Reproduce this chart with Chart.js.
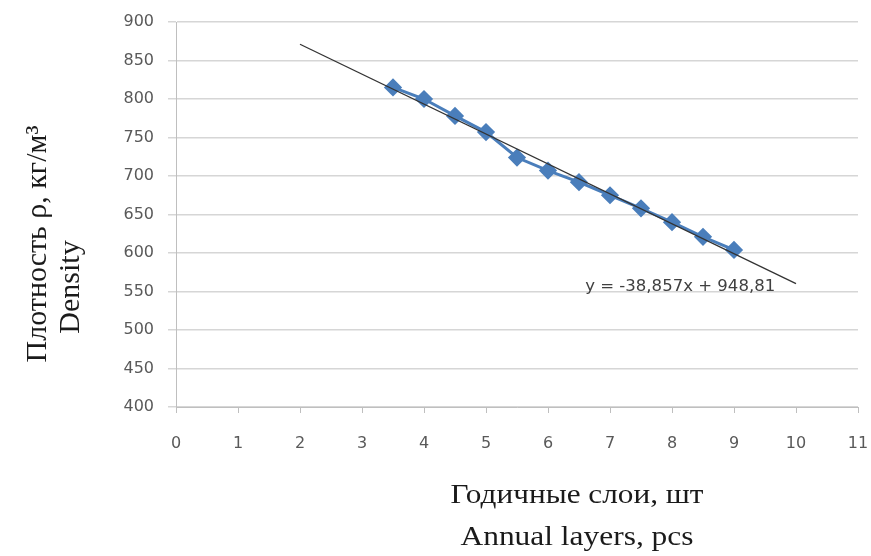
<!DOCTYPE html>
<html>
<head>
<meta charset="utf-8">
<script src="https://cdn.jsdelivr.net/npm/chart.js@4/dist/chart.umd.min.js"></script>
<style>
  html, body { margin: 0; padding: 0; background: #fff; }
  #wrap { width: 871px; height: 556px; position: relative; }
</style>
</head>
<body>
<div id="wrap"><canvas id="chart"></canvas></div>
<script>
// annual layers (x) and density (y)
const layers = [3.5, 4, 4.5, 5, 5.5, 6, 6.5, 7, 7.5, 8, 8.5, 9];
const density = [815, 800, 778, 757, 724, 707, 692, 675, 658, 640, 621, 604];

// linear trend shown on the chart
const slope = -38.857;
const intercept = 948.81;
const trendX = [2, 10];
const equation = 'y = -38,857x + 948,81';

const yTitle = ['Плотность ρ, кг/м³', 'Density'];
const xTitle = ['Годичные слои, шт', 'Annual layers, pcs'];

const points = layers.map((x, i) => ({ x: x, y: density[i] }));
const trend = trendX.map(x => ({ x: x, y: slope * x + intercept }));

// text stretched a bit sideways, like in the scanned picture
function wideText(ctx, text, x, y, width) {
  ctx.save();
  ctx.translate(x, y);
  ctx.scale(width / ctx.measureText(text).width, 1);
  ctx.fillText(text, 0, 0);
  ctx.restore();
}

function upText(ctx, text, x, y) {
  ctx.save();
  ctx.translate(x, y);
  ctx.rotate(-Math.PI / 2);
  ctx.fillText(text, 0, 0);
  ctx.restore();
}

const titlesPlugin = {
  id: 'titles',
  afterDraw(chart) {
    const ctx = chart.ctx;
    const xs = chart.scales.x, ys = chart.scales.y;
    ctx.save();
    ctx.fillStyle = '#1a1a1a';
    ctx.textAlign = 'center';
    ctx.textBaseline = 'alphabetic';

    ctx.font = '27px "Liberation Serif"';
    wideText(ctx, xTitle[0], 577, 503, 253);
    wideText(ctx, xTitle[1], 577, 545, 233);

    ctx.font = '30px "Liberation Serif"';
    upText(ctx, yTitle[0], 46, 244);
    upText(ctx, yTitle[1], 79, 287);

    ctx.fillStyle = '#404040';
    ctx.font = '16px "DejaVu Sans"';
    ctx.textAlign = 'left';
    wideText(ctx, equation, xs.getPixelForValue(6.6), ys.getPixelForValue(551), 190);
    ctx.restore();
  }
};

new Chart(document.getElementById('chart'), {
  type: 'scatter',
  data: {
    datasets: [
      {
        label: 'Density',
        data: points,
        showLine: true,
        borderColor: '#4a7ebb',
        backgroundColor: '#4a7ebb',
        borderWidth: 3,
        pointStyle: 'rectRot',
        pointRadius: 7,
        pointHoverRadius: 7,
        order: 2
      },
      {
        label: 'Trend',
        data: trend,
        showLine: true,
        borderColor: '#333333',
        borderWidth: 1.3,
        pointRadius: 0,
        order: 1
      }
    ]
  },
  options: {
    responsive: true,
    maintainAspectRatio: false,
    animation: false,
    layout: { padding: { left: 0, right: 13, top: 22, bottom: 0 } },
    plugins: {
      legend: { display: false },
      tooltip: { enabled: false }
    },
    scales: {
      x: {
        type: 'linear',
        min: 0,
        max: 11,
        border: { color: '#bfbfbf' },
        grid: { display: true, drawOnChartArea: false, color: '#bfbfbf', tickLength: 6 },
        ticks: {
          stepSize: 1,
          padding: 21,
          color: '#595959',
          font: { family: 'DejaVu Sans', size: 16 }
        },
        afterFit(scale) {
          scale.height = 149;
          scale.paddingLeft = 0;
          scale.paddingRight = 0;
        }
      },
      y: {
        min: 400,
        max: 900,
        border: { color: '#bfbfbf' },
        grid: { color: '#d6d6d6', lineWidth: 1.5, tickLength: 8 },
        ticks: {
          stepSize: 50,
          padding: 14,
          color: '#595959',
          font: { family: 'DejaVu Sans', size: 16 }
        },
        afterFit(scale) {
          scale.width = 176;
          scale.paddingTop = 0;
          scale.paddingBottom = 0;
        }
      }
    }
  },
  plugins: [titlesPlugin]
});
</script>
</body>
</html>
